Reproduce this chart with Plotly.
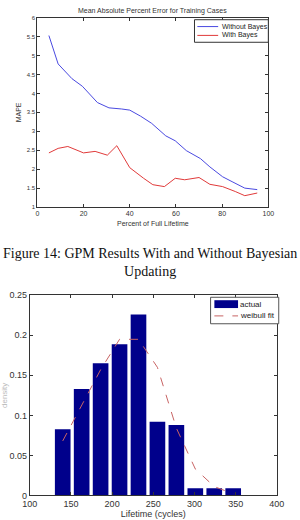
import plotly.graph_objects as go

# ---- Top chart data: MAPE vs percent of full lifetime
pct_without = [5, 9, 15, 19.5, 26, 31, 36.5, 40, 44.7, 49.5, 55.6, 59.7, 64.5, 70.6, 74.7, 80.2, 84.3, 89.8, 95.2]
mape_without = [5.53, 4.78, 4.39, 4.19, 3.76, 3.62, 3.59, 3.56, 3.40, 3.21, 2.88, 2.75, 2.49, 2.28, 2.06, 1.80, 1.67, 1.50, 1.46]
pct_with = [5, 9, 13.2, 20, 25, 30.3, 34.4, 40, 46, 50, 55, 59.7, 63.8, 70, 74.7, 80.2, 85.7, 89.8, 95.2]
mape_with = [2.43, 2.55, 2.60, 2.43, 2.47, 2.37, 2.62, 2.04, 1.76, 1.59, 1.54, 1.76, 1.72, 1.78, 1.60, 1.54, 1.41, 1.30, 1.37]
top_xticks = [0, 20, 40, 60, 80, 100]
top_yticks = [1, 1.5, 2, 2.5, 3, 3.5, 4, 4.5, 5, 5.5, 6]
top_series = ["Without Bayes", "With Bayes"]

# ---- Bottom chart data: lifetime histogram and weibull fit
lifetime = [140, 163, 186, 209, 232, 255, 278, 301, 324, 347]
actual = [0.0825, 0.133, 0.165, 0.189, 0.226, 0.092, 0.088, 0.009, 0.009, 0.009]
weibull = [0.068, 0.112, 0.157, 0.195, 0.195, 0.160, 0.084, 0.033, 0.011, 0.002]
bot_xticks = [100, 150, 200, 250, 300, 350, 400]
bot_yticks = [0, 0.05, 0.1, 0.15, 0.2, 0.25]
bot_series = ["actual", "weibull fit"]

W, H = 300, 520
BLUE, RED, NAVY, FIT = "#4a4ae0", "#e03a3a", "#00008b", "#c86464"

def px(x):
    return x / W

def py(y):
    return 1 - y / H

fig = go.Figure()
fig.add_trace(go.Scatter(x=pct_without, y=mape_without, mode="lines", name=top_series[0],
                         line=dict(color=BLUE, width=1), xaxis="x", yaxis="y"))
fig.add_trace(go.Scatter(x=pct_with, y=mape_with, mode="lines", name=top_series[1],
                         line=dict(color=RED, width=1), xaxis="x", yaxis="y"))
fig.add_trace(go.Bar(x=lifetime, y=actual, name=bot_series[0], width=19,
                     marker=dict(color=NAVY, line=dict(width=0)), xaxis="x2", yaxis="y2"))
fig.add_trace(go.Scatter(x=lifetime, y=weibull, mode="lines", name=bot_series[1],
                         line=dict(color=FIT, width=1, dash="dash"), xaxis="x2", yaxis="y2"))

axcommon = dict(showline=True, linecolor="#333", linewidth=1, mirror="ticks", ticks="inside",
                ticklen=3, tickcolor="#333", showgrid=False, zeroline=False)

shapes = [
    # top legend
    dict(type="rect", xref="paper", yref="paper", x0=px(197), x1=px(275), y0=py(38), y1=py(15),
         line=dict(color="#333", width=1), fillcolor="white", layer="above"),
    dict(type="line", xref="paper", yref="paper", x0=px(200), x1=px(222), y0=py(22), y1=py(22),
         line=dict(color=BLUE, width=1), layer="above"),
    dict(type="line", xref="paper", yref="paper", x0=px(200), x1=px(222), y0=py(31), y1=py(31),
         line=dict(color=RED, width=1), layer="above"),
    # bottom legend
    dict(type="rect", xref="paper", yref="paper", x0=px(214), x1=px(286), y0=py(325), y1=py(298),
         line=dict(color="#555", width=1), fillcolor="white", layer="above"),
    dict(type="rect", xref="paper", yref="paper", x0=px(218), x1=px(243), y0=py(309), y1=py(301),
         line=dict(width=0), fillcolor=NAVY, layer="above"),
    dict(type="line", xref="paper", yref="paper", x0=px(218), x1=px(243), y0=py(317), y1=py(317),
         line=dict(color=FIT, width=1, dash="dash"), layer="above"),
]

def legtext(txt, x, y, size):
    return dict(text=txt, x=px(x), y=py(y), xref="paper", yref="paper", showarrow=False,
                xanchor="left", yanchor="middle", font=dict(size=size, color="#222"))

fig.update_layout(
    width=W, height=H, margin=dict(l=0, r=0, t=0, b=0),
    plot_bgcolor="white", paper_bgcolor="white",
    font=dict(family="Liberation Sans, Arial", color="#333"),
    showlegend=False,
    xaxis=dict(domain=[px(31), px(275)], range=[0, 100], tickvals=top_xticks, anchor="y",
               tickfont=dict(size=7), title=dict(text="Percent of Full Lifetime", font=dict(size=7), standoff=4), **axcommon),
    yaxis=dict(domain=[py(206), py(13)], range=[1, 6], tickvals=top_yticks, anchor="x",
               tickfont=dict(size=6), title=dict(text="MAPE", font=dict(size=7), standoff=4), **axcommon),
    xaxis2=dict(domain=[px(23), px(284)], range=[100, 400], tickvals=bot_xticks, anchor="y2",
                tickfont=dict(size=9), title=dict(text="Lifetime (cycles)", font=dict(size=9), standoff=0), **axcommon),
    yaxis2=dict(domain=[py(500), py(296)], range=[0, 0.25], tickvals=bot_yticks, anchor="x2",
                tickfont=dict(size=9), title=dict(text="density", font=dict(size=8, color="#bbb"), standoff=4), **axcommon),
    shapes=shapes,
    annotations=[
        dict(text="Mean Absolute Percent Error for Training Cases", x=px(153), y=py(6),
             xref="paper", yref="paper", showarrow=False, font=dict(size=7, color="#333"),
             xanchor="center", yanchor="middle"),
        dict(text="Figure 14: GPM Results With and Without Bayesian<br>Updating", x=px(150), y=py(244),
             xref="paper", yref="paper", showarrow=False,
             font=dict(size=14, family="Liberation Serif, Times New Roman", color="#111"),
             xanchor="center", yanchor="top", align="center"),
        legtext(top_series[0], 224, 22, 7),
        legtext(top_series[1], 224, 31, 7),
        legtext(bot_series[0], 243, 305, 8),
        legtext(bot_series[1], 243, 317, 8),
    ],
)

fig.write_html("out.html")
